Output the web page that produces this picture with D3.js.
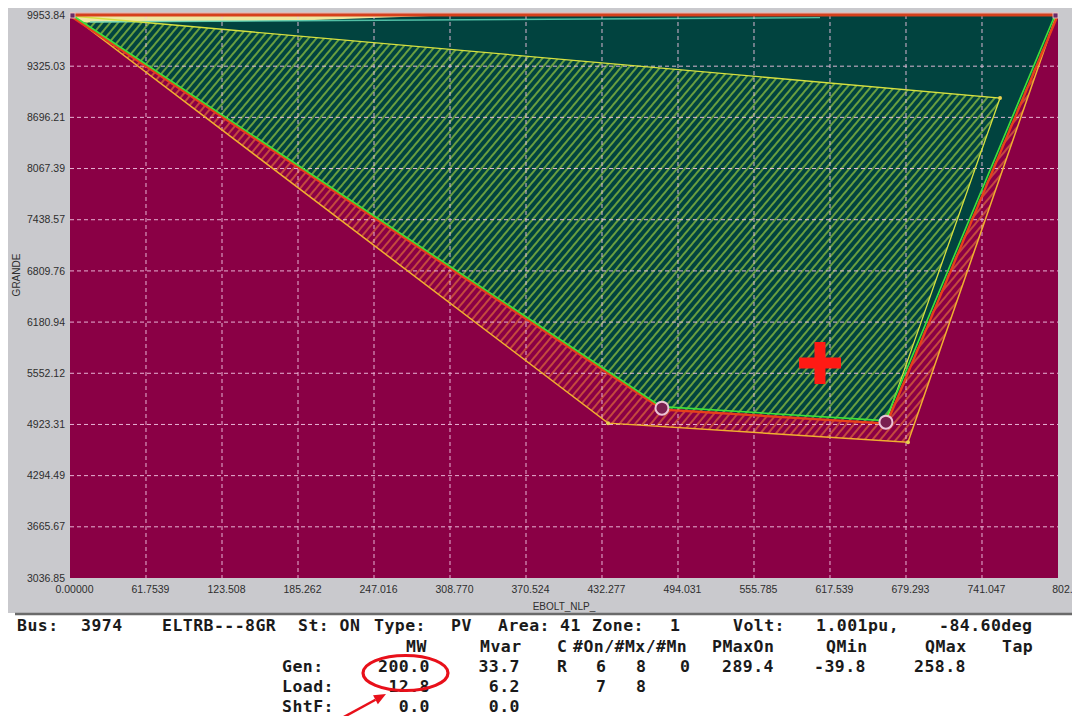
<!DOCTYPE html>
<html><head><meta charset="utf-8">
<script src="https://cdn.jsdelivr.net/npm/d3@7"></script>
<style>html,body{margin:0;padding:0;background:#fff;overflow:hidden}</style>
</head><body><svg id="c" width="1072" height="716"></svg>
<script>
// ---------- data ----------
const xTickValues = [0, 61.7539, 123.508, 185.262, 247.016, 308.770, 370.524, 432.277, 494.031, 555.785, 617.539, 679.293, 741.047, 802.801];
const xTickLabels = ["0.00000","61.7539","123.508","185.262","247.016","308.770","370.524","432.277","494.031","555.785","617.539","679.293","741.047","802."];
const yTickValues = [3036.85, 3665.67, 4294.49, 4923.31, 5552.12, 6180.94, 6809.76, 7438.57, 8067.39, 8696.21, 9325.03, 9953.84];
const yTickLabels = ["3036.85","3665.67","4294.49","4923.31","5552.12","6180.94","6809.76","7438.57","8067.39","8696.21","9325.03","9953.84"];
const xTitle = "EBOLT_NLP_";
const yTitle = "GRANDE";

// region boundaries in data units (x: EBOLT_NLP_, y: GRANDE)
const innerBoundary = [[1.6, 9941.5], [481.0, 5123.9], [663.0, 4951.8], [801.2, 9941.5]];
const outerBoundary = [[1.6, 9941.5], [437.2, 4939.5], [680.9, 4706.0], [801.2, 9941.5]];
const hatchRegion   = [[1.6, 9941.5], [755.7, 8933.8], [663.0, 4951.8], [481.0, 5123.9]];
const topBand       = [[3.3, 9941.5], [292.5, 9941.5], [186.9, 9885.0], [8.1, 9862.0]];
const topLine       = [[16.3, 9868.0], [609.4, 9922.0]];
const circleMarkers = [[481.0, 5123.9], [663.0, 4951.8]];
const vertexDots    = [[437.2, 4939.5], [680.9, 4706.0], [755.7, 8933.8]];
const operatingPoint = [609.4, 5676.9];

// bus information text
const busRow      = ["Bus:", "3974", "ELTRB---8GR", "St: ON", "Type:", "PV", "Area:", "41", "Zone:", "1", "Volt:", "1.001pu,", "-84.60deg"];
const colHeaders  = ["MW", "Mvar", "C", "#On/#Mx/#Mn", "PMaxOn", "QMin", "QMax", "Tap"];
const rowNames    = ["Gen:", "Load:", "ShtF:"];
const mwValues    = ["200.0", "12.8", "0.0"];
const mvarValues  = ["33.7", "6.2", "0.0"];
const genDetails  = ["R", "6", "8", "0", "289.4", "-39.8", "258.8"];
const loadDetails = ["7", "8"];

// ---------- layout ----------
const W = 1072, H = 716;
const L = 70, R = 1058, T = 15, B = 578;
const busRowX = [17, 81, 162, 298, 374, 451, 498, 560, 592, 670, 733, 816, 939];
const headerX = [406, 480, 557, 573, 712, 826, 925, 1002];
const genDetailX = [557, 596, 636, 680, 722, 814, 914];
const loadDetailX = [596, 636];
const rowY = [631, 651.5, 672, 692, 711.5];

const svg = d3.select("#c");
const x = d3.scaleLinear().domain([0, 802.801]).range([L, R]);
const y = d3.scaleLinear().domain([3036.85, 9953.84]).range([B, T]);

// panel
svg.append("rect").attr("x", 0).attr("y", 0).attr("width", W).attr("height", H).attr("fill", "#ffffff");
svg.append("rect").attr("x", 8).attr("y", 8).attr("width", W - 8).attr("height", 605).attr("fill", "#c9c9cd");
svg.append("line").attr("x1", 15).attr("x2", W).attr("y1", 614).attr("y2", 614).attr("stroke", "#6a6a6a").attr("stroke-width", 2.5);

const defs = svg.append("defs");
defs.append("clipPath").attr("id", "clip").append("rect")
  .attr("x", L).attr("y", T - 3).attr("width", R - L).attr("height", B - T + 3);
function hatch(id, color) {
  const p = defs.append("pattern").attr("id", id).attr("patternUnits", "userSpaceOnUse")
    .attr("width", 6).attr("height", 10).attr("patternTransform", "rotate(40)");
  p.append("line").attr("x1", 3).attr("x2", 3).attr("y1", 0).attr("y2", 10)
    .attr("stroke", color).attr("stroke-width", 1.3);
}
hatch("hg", "#a0cf40");
hatch("hr", "#e2703a");

const g = svg.append("g").attr("clip-path", "url(#clip)");
const line = d3.line().x(d => x(d[0])).y(d => y(d[1]));
const poly = pts => line(pts) + "Z";

// background
g.append("rect").attr("x", L).attr("y", T).attr("width", R - L).attr("height", B - T).attr("fill", "#8a0045");
// teal region
const tealRegion = [[0, 9953.84], innerBoundary[1], innerBoundary[2], [802.801, 9953.84]];
g.append("path").attr("d", poly(tealRegion)).attr("fill", "#01433f");
// red hatched band between boundaries
const band = [outerBoundary[0], outerBoundary[1], outerBoundary[2], outerBoundary[3], innerBoundary[2], innerBoundary[1]];
g.append("path").attr("d", poly(band)).attr("fill", "url(#hr)");
// green hatched region
g.append("path").attr("d", poly(hatchRegion)).attr("fill", "url(#hg)");
// top strips
g.append("path").attr("d", poly(topBand)).attr("fill", "#efe7a0");
g.append("path").attr("d", line(topLine)).attr("fill", "none").attr("stroke", "#5fd6b8").attr("stroke-width", 1.4).attr("opacity", 0.85);

// grid
const grid = g.append("g").attr("stroke", "#f2c6e4").attr("stroke-width", 1).attr("stroke-dasharray", "4,3").attr("opacity", 0.9);
grid.selectAll("line.v").data(xTickValues.slice(1, -1)).join("line")
  .attr("x1", d => x(d)).attr("x2", d => x(d)).attr("y1", T).attr("y2", B);
grid.selectAll("line.h").data(yTickValues.slice(1, -1)).join("line")
  .attr("x1", L).attr("x2", R).attr("y1", d => y(d)).attr("y2", d => y(d));

// boundary lines
g.append("path").attr("d", line(outerBoundary)).attr("fill", "none").attr("stroke", "#f0b030").attr("stroke-width", 1.5);
g.append("path").attr("d", line([hatchRegion[0], hatchRegion[1], hatchRegion[2]])).attr("fill", "none").attr("stroke", "#d6e040").attr("stroke-width", 1.3);
g.append("path").attr("d", line(innerBoundary)).attr("fill", "none").attr("stroke", "#e8401a").attr("stroke-width", 2.3)
  .attr("transform", "translate(0.8,1.5)");
g.append("path").attr("d", line(innerBoundary)).attr("fill", "none").attr("stroke", "#3ee03a").attr("stroke-width", 1.6)
  .attr("transform", "translate(-0.8,-1.5)");

// markers
g.selectAll("circle.m").data(circleMarkers).join("circle")
  .attr("cx", d => x(d[0])).attr("cy", d => y(d[1])).attr("r", 6.5)
  .attr("fill", "#7a2050").attr("stroke", "#ecc4d8").attr("stroke-width", 2);
g.selectAll("circle.v").data(vertexDots).join("circle")
  .attr("cx", d => x(d[0])).attr("cy", d => y(d[1])).attr("r", 2).attr("fill", "#e8d050");

// operating point cross
const cx = x(operatingPoint[0]), cy = y(operatingPoint[1]);
const a = 21, t = 5.5;
g.append("path").attr("fill", "#ff1a14")
  .attr("d", `M${cx - t},${cy - a}H${cx + t}V${cy - t}H${cx + a}V${cy + t}H${cx + t}V${cy + a}H${cx - t}V${cy + t}H${cx - a}V${cy - t}H${cx - t}Z`);

// top border
svg.append("line").attr("x1", L).attr("x2", R).attr("y1", T - 2).attr("y2", T - 2).attr("stroke", "#f2aca4").attr("stroke-width", 1);
svg.append("line").attr("x1", L).attr("x2", R).attr("y1", T).attr("y2", T).attr("stroke", "#d6401c").attr("stroke-width", 3);
[[0, 9953.84], [802.801, 9953.84]].forEach(d => {
  svg.append("rect").attr("x", x(d[0]) - (d[0] === 0 ? 0 : 5)).attr("y", y(d[1]) - 2).attr("width", 5).attr("height", 5)
    .attr("fill", "#6a2a66").attr("stroke", "#f0d0d0").attr("stroke-width", 0.8);
});

// axes labels
const axisFont = "'Liberation Sans', Arial, sans-serif";
svg.append("g").selectAll("text").data(xTickValues).join("text")
  .attr("x", d => x(d) + 4.5).attr("y", 593).attr("text-anchor", "middle")
  .attr("font-family", axisFont).attr("font-size", 10.5).attr("fill", "#2e2e2e")
  .text((d, i) => xTickLabels[i]);
svg.append("g").selectAll("text").data(yTickValues).join("text")
  .attr("x", 65).attr("y", d => y(d)).attr("dy", "0.35em").attr("text-anchor", "end")
  .attr("font-family", axisFont).attr("font-size", 10.5).attr("fill", "#2e2e2e")
  .text((d, i) => yTickLabels[i]);
svg.append("text").attr("x", 564).attr("y", 610).attr("text-anchor", "middle")
  .attr("font-family", axisFont).attr("font-size", 10).attr("fill", "#2e2e2e").text(xTitle);
svg.append("text").attr("transform", "translate(20,275) rotate(-90)").attr("text-anchor", "middle")
  .attr("font-family", axisFont).attr("font-size", 10).attr("fill", "#2e2e2e").text(yTitle);

// bus info text
const mono = "'DejaVu Sans Mono', 'Liberation Mono', monospace";
const info = svg.append("g").attr("font-family", mono).attr("font-weight", "bold").attr("font-size", 16.5)
  .attr("letter-spacing", 0.45).attr("fill", "#1a1a1a");
busRow.forEach((s, i) => info.append("text").attr("x", busRowX[i]).attr("y", rowY[0]).text(s));
colHeaders.forEach((s, i) => info.append("text").attr("x", headerX[i]).attr("y", rowY[1]).text(s));
rowNames.forEach((s, i) => info.append("text").attr("x", 282).attr("y", rowY[i + 2]).text(s));
mwValues.forEach((s, i) => info.append("text").attr("x", 430).attr("y", rowY[i + 2]).attr("text-anchor", "end").text(s));
mvarValues.forEach((s, i) => info.append("text").attr("x", 520).attr("y", rowY[i + 2]).attr("text-anchor", "end").text(s));
genDetails.forEach((s, i) => info.append("text").attr("x", genDetailX[i]).attr("y", rowY[2]).text(s));
loadDetails.forEach((s, i) => info.append("text").attr("x", loadDetailX[i]).attr("y", rowY[3]).text(s));

// annotation: red ellipse and arrow
svg.append("ellipse").attr("cx", 405.5).attr("cy", 673).attr("rx", 42.5).attr("ry", 17.5)
  .attr("fill", "none").attr("stroke", "#e8101a").attr("stroke-width", 3.2);
const tip = [386, 694], tail = [342, 718];
const dx = tip[0] - tail[0], dy = tip[1] - tail[1], len = Math.hypot(dx, dy);
const ux = dx / len, uy = dy / len, px = -uy, py = ux;
const bx = tip[0] - 12 * ux, by = tip[1] - 12 * uy;
svg.append("line").attr("x1", tail[0]).attr("y1", tail[1]).attr("x2", bx).attr("y2", by)
  .attr("stroke", "#e8101a").attr("stroke-width", 2.5);
svg.append("path").attr("fill", "#e8101a")
  .attr("d", `M${tip[0]},${tip[1]}L${bx + 5 * px},${by + 5 * py}L${bx - 5 * px},${by - 5 * py}Z`);
</script>
</body></html>
